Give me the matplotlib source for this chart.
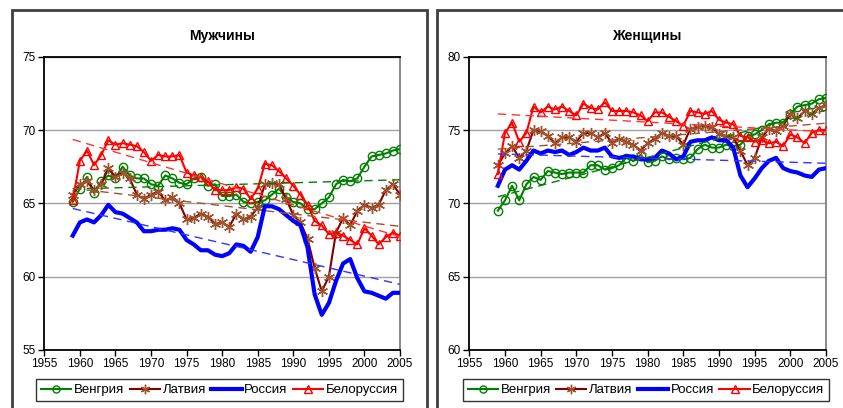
import numpy as np
import matplotlib.pyplot as plt
from matplotlib.patches import Rectangle
from matplotlib.lines import Line2D

plt.rcParams['font.family'] = ['Liberation Sans', 'DejaVu Sans']

years = np.arange(1959, 2006)
countries = ['Венгрия', 'Латвия', 'Россия', 'Белоруссия']

# мужчины
hun_m = [65.1, 66.0, 66.8, 65.7, 66.5, 66.9, 66.7, 67.5, 66.9, 66.7, 66.7, 66.3, 66.2, 66.9, 66.7, 66.4,
         66.3, 66.7, 66.8, 66.2, 66.3, 65.5, 65.5, 65.6, 65.1, 65.0, 65.1, 65.2, 65.6, 66.0, 65.4, 65.1,
         65.0, 64.6, 64.6, 65.0, 65.4, 66.3, 66.6, 66.5, 66.7, 67.5, 68.2, 68.3, 68.4, 68.6, 68.7]
lat_m = [65.6, 66.3, 66.5, 65.9, 66.3, 67.4, 66.8, 67.1, 66.7, 65.6, 65.3, 65.6, 65.8, 65.2, 65.4, 65.0,
         63.9, 64.0, 64.3, 64.1, 63.6, 63.7, 63.4, 64.3, 63.9, 64.1, 64.7, 66.3, 66.4, 66.3, 65.3, 64.2,
         63.7, 62.6, 60.6, 59.0, 60.0, 63.0, 64.0, 63.5, 64.5, 64.9, 64.7, 64.9, 65.9, 66.3, 65.6]
rus_m = [62.8, 63.7, 63.9, 63.7, 64.2, 64.9, 64.4, 64.3, 64.0, 63.7, 63.1, 63.1, 63.2, 63.2, 63.3, 63.2,
         62.5, 62.2, 61.8, 61.8, 61.5, 61.4, 61.6, 62.2, 62.1, 61.7, 62.7, 64.8, 64.8, 64.6, 64.2, 63.8,
         63.5, 62.0, 58.8, 57.4, 58.2, 59.7, 60.9, 61.2, 59.9, 59.0, 58.9, 58.7, 58.5, 58.9, 58.9]
blr_m = [65.2, 67.9, 68.6, 67.6, 68.3, 69.3, 69.0, 69.1, 69.0, 68.9, 68.5, 67.9, 68.3, 68.2, 68.2, 68.3,
         67.1, 66.9, 66.8, 66.5, 65.9, 65.9, 65.9, 66.1, 66.0, 65.3, 66.0, 67.7, 67.6, 67.2, 66.7, 66.2,
         65.6, 64.9, 63.8, 63.5, 62.9, 63.0, 62.8, 62.5, 62.2, 63.3, 62.8, 62.2, 62.7, 63.0, 62.8]

# женщины
hun_f = [69.5, 70.2, 71.2, 70.2, 71.3, 71.8, 71.6, 72.2, 72.1, 72.0, 72.1, 72.1, 72.1, 72.6, 72.6, 72.3,
         72.4, 72.6, 73.1, 72.9, 73.3, 72.8, 72.9, 73.2, 73.0, 73.1, 73.0, 73.1, 73.7, 74.0, 73.8, 73.8,
         74.0, 73.9, 74.0, 74.6, 74.7, 75.0, 75.4, 75.5, 75.5, 76.1, 76.6, 76.7, 76.8, 77.1, 77.2]
lat_f = [72.6, 73.4, 73.9, 73.1, 73.6, 75.0, 74.9, 74.6, 74.1, 74.5, 74.5, 74.2, 74.8, 74.8, 74.5, 74.8,
         74.1, 74.4, 74.2, 74.0, 73.6, 74.1, 74.4, 74.8, 74.6, 74.6, 74.0, 75.1, 75.2, 75.3, 75.2, 74.7,
         74.6, 74.5, 73.6, 72.6, 73.1, 74.5, 75.1, 74.9, 75.3, 76.1, 75.8, 76.3, 76.1, 76.5, 76.7]
rus_f = [71.2, 72.3, 72.6, 72.3, 72.9, 73.6, 73.4, 73.6, 73.5, 73.6, 73.3, 73.5, 73.8, 73.6, 73.6, 73.8,
         73.2, 73.1, 73.2, 73.2, 73.0, 73.0, 73.1, 73.6, 73.4, 73.0, 73.2, 74.2, 74.3, 74.3, 74.5, 74.3,
         74.3, 73.8, 71.9, 71.1, 71.7, 72.4, 72.9, 73.1, 72.4, 72.2, 72.1, 71.9, 71.8, 72.3, 72.4]
blr_f = [72.0, 74.8, 75.5, 74.2, 74.8, 76.6, 76.2, 76.6, 76.4, 76.6, 76.3, 76.0, 76.8, 76.5, 76.4, 76.9,
         76.3, 76.3, 76.3, 76.2, 76.0, 75.6, 76.2, 76.2, 75.9, 75.6, 75.3, 76.3, 76.2, 76.1, 76.3, 75.7,
         75.5, 75.4, 74.6, 74.5, 74.2, 74.3, 74.1, 74.2, 73.9, 74.7, 74.5, 74.1, 74.8, 75.0, 75.0]

W, H = 843, 408


def px_axes(fig, x0, y0, x1, y1):
    return fig.add_axes([x0 / W, 1 - y1 / H, (x1 - x0) / W, (y1 - y0) / H])


def series_styles(scale=1.0):
    return [
        dict(color='#008000', lw=1.5, marker='o', ms=6 * scale, mfc='none', mec='#008000', mew=1.0),
        dict(color='#800000', lw=1.5, marker=(6, 2, 0), ms=8 * scale, mec='#A0522D', mew=1.0),
        dict(color='#0000FF', lw=3.0),
        dict(color='#FF0000', lw=1.5, marker='^', ms=6 * scale, mfc='none', mec='#FF0000', mew=1.0),
    ]


trend_colors = ['#008000', '#A0522D', '#3333FF', '#FF3333']


def panel(ax, data, title, ylo, yhi):
    for d, st, tc in zip(data, series_styles(), trend_colors):
        ax.plot(years, d, zorder=3, **st)
        k, b = np.polyfit(years, d, 1)
        ax.plot(years, k * years + b, color=tc, lw=1.0, ls=(0, (6, 4)), zorder=4)
    ax.set_xlim(1955, 2005)
    ax.set_ylim(ylo, yhi)
    ax.set_xticks(np.arange(1955, 2006, 5))
    ax.set_yticks(np.arange(ylo, yhi + 1, 5))
    ax.yaxis.grid(True, color='#A0A0A0', lw=1.0)
    ax.set_axisbelow(True)
    ax.tick_params(direction='out', length=4, width=1, labelsize=8.5, pad=2)
    for s in ['left', 'bottom', 'top']:
        ax.spines[s].set_linewidth(1.3)
    ax.spines['right'].set_color('#808080')
    ax.spines['right'].set_linewidth(1.3)
    ax.set_title(title, fontsize=10, fontweight='bold', pad=12)


def legend(fig, x0, x1):
    handles = [Line2D([], [], **st) for st in series_styles(0.85)]
    y0, y1 = 378, 402
    fig.legend(handles, countries, loc='center',
               bbox_to_anchor=((x0 + x1) / 2 / W, 1 - (y0 + y1) / 2 / H),
               ncol=4, numpoints=1, handlelength=2.3, handletextpad=0.2,
               columnspacing=0.4, fontsize=9.5, frameon=True, fancybox=False,
               edgecolor='black', borderpad=0.35, borderaxespad=0)


fig = plt.figure(figsize=(W / 100, H / 100), dpi=100)

for fx0, fx1 in [(12, 427), (437, 845)]:
    fig.patches.append(Rectangle((fx0 / W, -0.05), (fx1 - fx0) / W, 1 - 10 / H + 0.05,
                                 transform=fig.transFigure, fill=False,
                                 edgecolor='#404040', lw=2))

ax1 = px_axes(fig, 44.3, 56.7, 400, 350)
panel(ax1, [hun_m, lat_m, rus_m, blr_m], 'Мужчины', 55, 75)
legend(fig, 36, 403)

ax2 = px_axes(fig, 469.3, 56.7, 826, 350)
panel(ax2, [hun_f, lat_f, rus_f, blr_f], 'Женщины', 60, 80)
legend(fig, 462, 830)

fig.savefig('out.png', dpi=100)
